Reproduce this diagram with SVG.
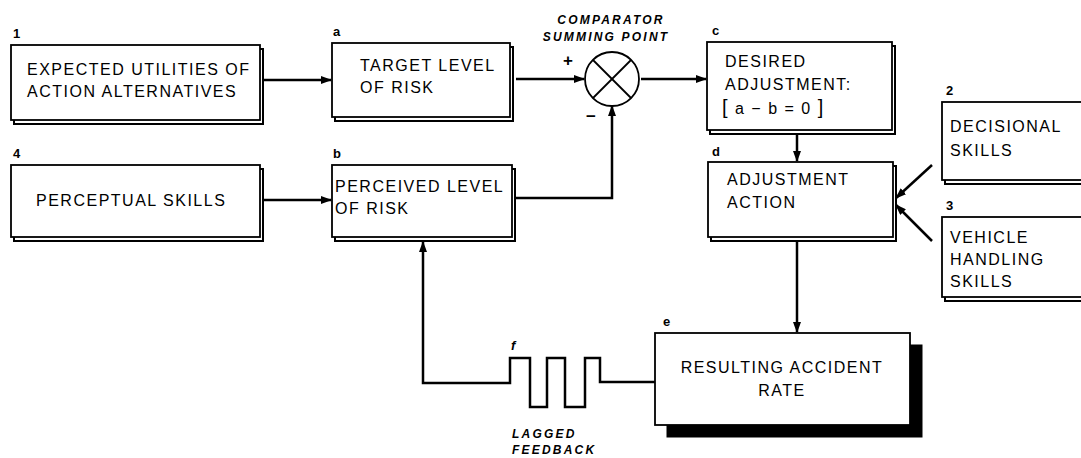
<svg xmlns="http://www.w3.org/2000/svg" width="1081" height="458" viewBox="0 0 1081 458">
<defs>
<marker id="arr" markerUnits="userSpaceOnUse" markerWidth="11" markerHeight="8" refX="10" refY="4" orient="auto">
<path d="M0,0 L11,4 L0,8 z" fill="#000"/>
</marker>
<style>
.box{fill:#fff;stroke:#000;stroke-width:1.8}
.sh{fill:#fff;stroke:#000;stroke-width:2}
.shd{fill:#000;stroke:#000;stroke-width:1}
.t{font-family:"Liberation Sans",Arial,sans-serif;font-size:16px;letter-spacing:1.5px;fill:#000}
.lb{font-family:"Liberation Sans",Arial,sans-serif;font-size:13px;font-weight:bold;fill:#000}
.it{font-family:"Liberation Sans",Arial,sans-serif;font-size:12px;font-weight:bold;font-style:italic;letter-spacing:2.2px;fill:#000}
.c{fill:none;stroke:#000;stroke-width:2.5}
</style>
</defs>
<rect width="1081" height="458" fill="#fff"/>
<g id="connectors">
<line class="c" x1="263" y1="80" x2="331" y2="80" marker-end="url(#arr)"/>
<line class="c" x1="516" y1="79" x2="584" y2="79" marker-end="url(#arr)"/>
<line class="c" x1="641" y1="79" x2="706" y2="79" marker-end="url(#arr)"/>
<line class="c" x1="263" y1="200" x2="331" y2="200" marker-end="url(#arr)"/>
<polyline class="c" points="515,198 612,198 612,106" marker-end="url(#arr)"/>
<line class="c" x1="797" y1="133" x2="797" y2="161" marker-end="url(#arr)"/>
<line class="c" x1="797" y1="240" x2="797" y2="332" marker-end="url(#arr)"/>
<line class="c" x1="932" y1="165" x2="896" y2="198" marker-end="url(#arr)"/>
<line class="c" x1="932" y1="241" x2="896" y2="205" marker-end="url(#arr)"/>
<polyline class="c" points="655,382 600,382 600,358 585,358 585,407 565,407 565,358 547,358 547,407 530,407 530,358 510,358 510,383 423,383 423,242" marker-end="url(#arr)"/>
</g>
<g id="n1">
<rect class="sh" x="14" y="49" width="249" height="75"/>
<rect class="box" x="11" y="45" width="249" height="75"/>
<text class="lb" x="13" y="38">1</text>
<text class="t" x="27" y="75">EXPECTED UTILITIES OF</text>
<text class="t" x="27" y="97">ACTION ALTERNATIVES</text>
</g>
<g id="na">
<rect class="sh" x="335" y="47" width="178" height="74"/>
<rect class="box" x="332" y="43" width="178" height="74"/>
<text class="lb" x="333" y="36">a</text>
<text class="t" x="360" y="71">TARGET LEVEL</text>
<text class="t" x="360" y="93">OF RISK</text>
</g>
<g id="comparator">
<circle cx="612" cy="79" r="27" fill="#fff" stroke="#000" stroke-width="1.8"/>
<line x1="593" y1="60" x2="631" y2="98" stroke="#000" stroke-width="1.8"/>
<line x1="631" y1="60" x2="593" y2="98" stroke="#000" stroke-width="1.8"/>
<text class="it" x="611" y="24" text-anchor="middle">COMPARATOR</text>
<text class="it" x="606" y="41" text-anchor="middle">SUMMING POINT</text>
<text class="lb" x="568" y="66" text-anchor="middle" style="font-size:17px">+</text>
<text class="lb" x="591" y="122" text-anchor="middle" style="font-size:17px">−</text>
</g>
<g id="nc">
<rect class="sh" x="710" y="46" width="185" height="88"/>
<rect class="box" x="707" y="42" width="185" height="88"/>
<text class="lb" x="712" y="35">c</text>
<text class="t" x="725" y="67">DESIRED</text>
<text class="t" x="725" y="90">ADJUSTMENT:</text>
<text class="t" x="722" y="114"><tspan style="font-size:20px">[</tspan> a − b = 0 <tspan style="font-size:20px">]</tspan></text>
</g>
<g id="nd">
<rect class="sh" x="711" y="166" width="185" height="75"/>
<rect class="box" x="708" y="162" width="185" height="75"/>
<text class="lb" x="712" y="156">d</text>
<text class="t" x="727" y="185">ADJUSTMENT</text>
<text class="t" x="727" y="208">ACTION</text>
</g>
<g id="n2">
<rect class="sh" x="945" y="106" width="150" height="78"/>
<rect class="box" x="942" y="102" width="150" height="78"/>
<text class="lb" x="946" y="95">2</text>
<text class="t" x="950" y="132">DECISIONAL</text>
<text class="t" x="950" y="156">SKILLS</text>
</g>
<g id="n3">
<rect class="sh" x="945" y="221" width="150" height="80"/>
<rect class="box" x="942" y="217" width="150" height="80"/>
<text class="lb" x="946" y="210">3</text>
<text class="t" x="950" y="243">VEHICLE</text>
<text class="t" x="950" y="265">HANDLING</text>
<text class="t" x="950" y="287">SKILLS</text>
</g>
<g id="n4">
<rect class="sh" x="14" y="169" width="249" height="72"/>
<rect class="box" x="11" y="165" width="249" height="72"/>
<text class="lb" x="13" y="158">4</text>
<text class="t" x="36" y="206">PERCEPTUAL SKILLS</text>
</g>
<g id="nb">
<rect class="sh" x="335" y="169" width="180" height="72"/>
<rect class="box" x="332" y="165" width="180" height="72"/>
<text class="lb" x="333" y="158">b</text>
<text class="t" x="335" y="192">PERCEIVED LEVEL</text>
<text class="t" x="335" y="214">OF RISK</text>
</g>
<g id="nf">
<text class="lb" x="511" y="350" style="font-style:italic">f</text>
<text class="it" x="512" y="438">LAGGED</text>
<text class="it" x="512" y="454">FEEDBACK</text>
</g>
<g id="ne">
<rect class="shd" x="667" y="345" width="255" height="92"/>
<rect class="box" x="655" y="333" width="255" height="92"/>
<text class="lb" x="663" y="326">e</text>
<text class="t" x="782" y="373" text-anchor="middle">RESULTING ACCIDENT</text>
<text class="t" x="782" y="396" text-anchor="middle">RATE</text>
</g>
</svg>
